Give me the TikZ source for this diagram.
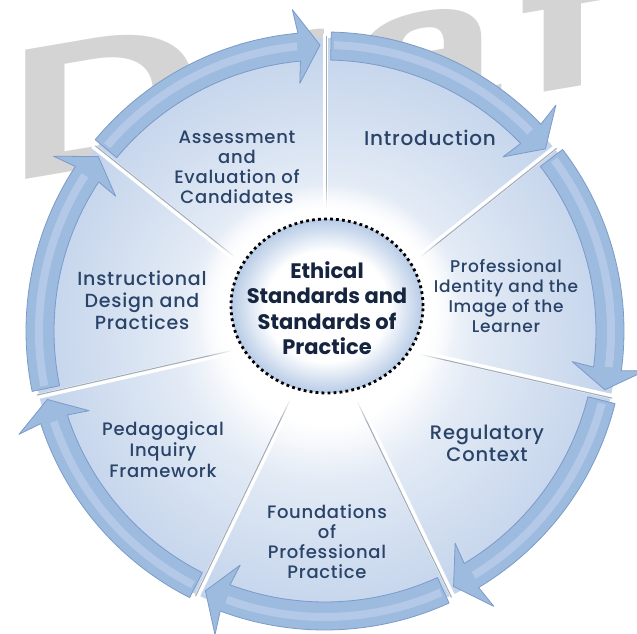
\documentclass[tikz,border=0pt]{standalone}
\usepackage{fontspec}
\setmainfont{Poppins}
\newfontfamily\markfont[LetterSpace=7]{Liberation Sans}
\newfontfamily\topicfont[LetterSpace=4, UprightFont=* Medium]{Poppins}
\usepackage{tikz}
\usetikzlibrary{positioning}
\usetikzlibrary{fadings}

\definecolor{wedgeblue}{HTML}{C2D3EB}
\definecolor{wedgepale}{HTML}{E2EAF5}
\definecolor{bandblue}{HTML}{9DBADF}
\definecolor{bandedge}{HTML}{7B9BC9}
\definecolor{bandshine}{HTML}{B4C9E7}
\definecolor{hubrim}{HTML}{B7CBE6}
\definecolor{labelblue}{HTML}{2A4368}
\definecolor{hubtext}{HTML}{15243F}
\definecolor{draftgray}{HTML}{D4D4D4}
\definecolor{gapgray}{HTML}{A3ADBA}

\pgfdeclareradialshading{wheelshade}{\pgfpoint{0bp}{0bp}}{color(0bp)=(white); color(8bp)=(white); color(13bp)=(wedgepale); color(25bp)=(wedgeblue); color(50bp)=(wedgeblue)}
\pgfdeclareradialshading{hubshade}{\pgfpoint{0bp}{0bp}}{color(0bp)=(white); color(16bp)=(white); color(25bp)=(hubrim); color(50bp)=(hubrim)}

% one band of the cycle, from boundary #1 clockwise to boundary #2
\newcommand{\cyclearrow}[2]{%
  \pgfmathsetmacro{\as}{#1-1.2}%
  \pgfmathsetmacro{\ae}{#2+1}%
  \pgfmathsetmacro{\ah}{#2+5.2}%
  \pgfmathsetmacro{\ab}{#2+5.8}%
  \pgfmathsetmacro{\am}{#2+5.6}%
  \filldraw[band]
    (\as:271) arc[start angle=\as, end angle=\ah, radius=271]
    -- (\ab:249) -- (\ae:286) -- (\ab:323) -- (\ah:299)
    arc[start angle=\ah, end angle=\as, radius=299] -- cycle;
  \draw[shine] (\as-0.6:286) arc[start angle=\as-0.6, end angle=\am, radius=286];
}
% white gap with a grey edge between two wedges
\newcommand{\wedgegap}[1]{%
  \draw[white, line width=5pt] (#1:60) -- (#1:297);
  \draw[gapgray, line width=1.1pt] ([shift={(#1-90:1.6)}]#1:60) -- ([shift={(#1-90:1.6)}]#1:295);
}

\tikzset{
  band/.style={fill=bandblue, draw=bandedge, line width=0.8pt, line join=round},
  shine/.style={bandshine, line width=8pt},
  topic/.style={align=center, text=labelblue, inner sep=0pt,
    font=\topicfont\fontsize{18}{21}\selectfont},
  hublabel/.style={align=center, text=hubtext, inner sep=0pt,
    font=\bfseries\fontsize{21}{25.5}\selectfont},
  draftmark/.style={inner sep=0pt, text=draftgray, yslant=0.17, xscale=1.45,
    transform shape, font=\markfont\bfseries\fontsize{188}{188}\selectfont}
}

\begin{document}
\begin{tikzpicture}[x=1pt,y=1pt]
\useasboundingbox (0,0) rectangle (637,634);
\fill[white] (0,0) rectangle (637,634);
\clip (0,0) rectangle (637,634);

% watermark
\begin{scope}[shift={(7,451)}]
  \node[draftmark, anchor=base west] (draft) at (0,0) {Draft};
\end{scope}

% wheel
\begin{scope}[shift={(325,303)}]
  \shade[shading=wheelshade] (0,0) circle (293);
  \wedgegap{90}
  \wedgegap{38.5714}
  \wedgegap{-12.8571}
  \wedgegap{-64.2857}
  \wedgegap{-115.7143}
  \wedgegap{-167.1429}
  \wedgegap{141.4286}

  \cyclearrow{90}{38.5714}
  \cyclearrow{38.5714}{-12.8571}
  \cyclearrow{-12.8571}{-64.2857}
  \cyclearrow{-64.2857}{-115.7143}
  \cyclearrow{-115.7143}{-167.1429}
  \cyclearrow{-167.1429}{-218.5714}
  \cyclearrow{141.4286}{90}

  % hub
  \fill[white, path fading=circle with fuzzy edge 20 percent] (2,25) ellipse (132 and 122);
  \shade[shading=hubshade] (2,25) ellipse (96 and 87);
  \draw[black, line width=2.8pt, dash pattern=on 2.8pt off 3.2pt] (2,25) ellipse (96 and 87);
\end{scope}

% labels
\node[topic, font=\topicfont\fontsize{20}{21}\selectfont] (intro) at (430,496) {Introduction};
\node[topic, font=\topicfont\fontsize{17}{20}\selectfont] (identity) at (506,338) {Professional\\Identity and the\\Image of the\\Learner};
\node[topic, font=\topicfont\fontsize{19.5}{22}\selectfont] (regulatory) at (487,191) {Regulatory\\Context};
\node[topic, font=\topicfont\fontsize{18}{20}\selectfont] (foundations) at (327,92) {Foundations\\of\\Professional\\Practice};
\node[topic]    (inquiry)     at (163,184) {Pedagogical\\Inquiry\\Framework};
\node[topic, font=\topicfont\fontsize{19}{22}\selectfont] (design) at (142,334) {Instructional\\Design and\\Practices};
\node[topic, font=\topicfont\fontsize{18}{20}\selectfont] (assessment) at (237,467) {Assessment\\and\\Evaluation of\\Candidates};
\node[hublabel] (ethics)      at (327,326) {Ethical\\Standards and\\Standards of\\Practice};

\end{tikzpicture}
\end{document}
